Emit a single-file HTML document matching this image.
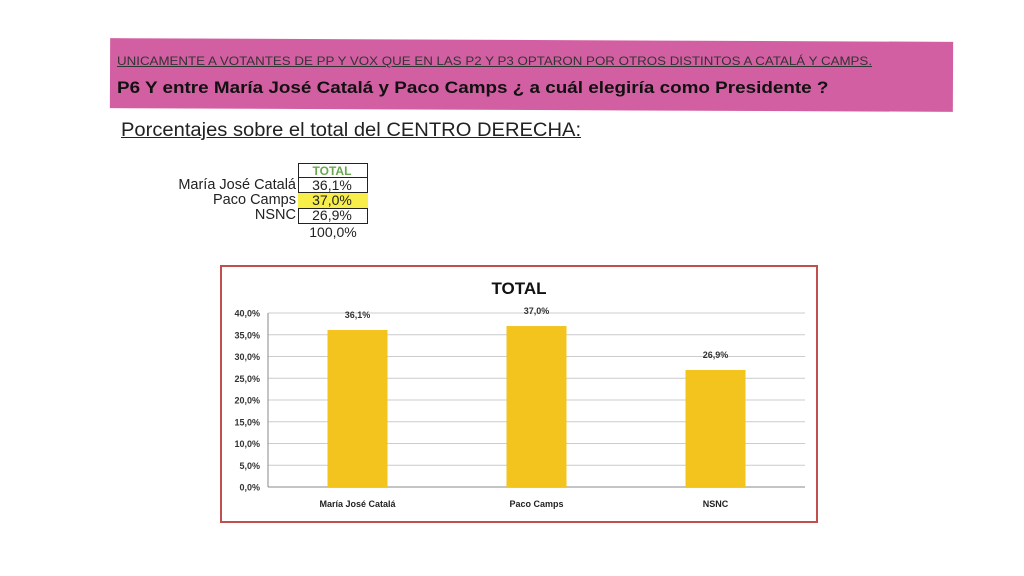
<!DOCTYPE html>
<html><head><meta charset="utf-8"><style>
body{margin:0;width:1024px;height:576px;background:#fff;position:relative;overflow:hidden;font-family:"Liberation Sans",sans-serif}
.abs{position:absolute}
.sx{transform-origin:0 0;white-space:nowrap}
</style></head><body>
<div class="abs" style="left:110px;top:40px;width:843px;height:70px;background:#d35fa3;transform:rotate(0.25deg)"></div>
<div class="abs sx" style="left:117px;top:54px;font-size:12px;color:#333;text-decoration:underline;transform:scaleX(1.11)">UNICAMENTE A VOTANTES DE PP Y VOX QUE EN LAS P2 Y P3 OPTARON POR OTROS DISTINTOS A CATALÁ Y CAMPS.</div>
<div class="abs sx" style="left:117px;top:78px;font-size:17px;font-weight:bold;color:#111;transform:scaleX(1.11)">P6 Y entre María José Catalá y Paco Camps ¿ a cuál elegiría como Presidente ?</div>
<div class="abs sx" style="left:121px;top:120px;font-size:19px;color:#222;text-decoration:underline;transform:scaleX(1.06)">Porcentajes sobre el total del CENTRO DERECHA:</div>
<div class="abs" style="left:0;top:0">
<div class="abs" style="left:298px;top:163px;width:68px;height:59px;border:1px solid #222"></div>
<div class="abs" style="left:298px;top:177px;width:70px;border-top:1px solid #222"></div>
<div class="abs" style="left:298px;top:192px;width:70px;height:15px;border-top:1px solid #222;border-bottom:1px solid #222;background:#f7ee4a"></div>
<div class="abs" style="left:298px;top:164px;width:68px;text-align:center;font-size:12px;font-weight:bold;color:#6aa84f">TOTAL</div>
<div class="abs" style="left:100px;top:177px;width:196px;text-align:right;font-size:14.5px;color:#222">María José Catalá</div>
<div class="abs" style="left:100px;top:192px;width:196px;text-align:right;font-size:14.5px;color:#222">Paco Camps</div>
<div class="abs" style="left:100px;top:207px;width:196px;text-align:right;font-size:14.5px;color:#222">NSNC</div>
<div class="abs" style="left:298px;top:177px;width:68px;text-align:center;font-size:14px;color:#222">36,1%</div>
<div class="abs" style="left:298px;top:192px;width:68px;text-align:center;font-size:14px;color:#222">37,0%</div>
<div class="abs" style="left:298px;top:207px;width:68px;text-align:center;font-size:14px;color:#222">26,9%</div>
<div class="abs" style="left:298px;top:224px;width:70px;text-align:center;font-size:14px;color:#222">100,0%</div>
</div>
<svg class="abs" style="left:0;top:0" width="1024" height="576">
<rect x="221" y="266" width="596" height="256" fill="#fff" stroke="#c0504d" stroke-width="2"/>
<text x="519" y="294" text-anchor="middle" font-size="17" font-weight="bold" fill="#111">TOTAL</text>
<g id="g"></g>
</svg>
<script>
const categories=["María José Catalá","Paco Camps","NSNC"];
const values=[36.1,37.0,26.9];
const valueLabels=["36,1%","37,0%","26,9%"];
const ticks=[0,5,10,15,20,25,30,35,40];
const tickLabels=["0,0%","5,0%","10,0%","15,0%","20,0%","25,0%","30,0%","35,0%","40,0%"];
const NS="http://www.w3.org/2000/svg",g=document.getElementById('g');
const x0=268,x1=805,y0=487,yTop=313;
const y=v=>y0-(v/40)*(y0-yTop);
const band=(x1-x0)/categories.length;
const xc=i=>x0+band*(i+0.5);
function mk(t,a,txt){const e=document.createElementNS(NS,t);for(const k in a)e.setAttribute(k,a[k]);if(txt!=null)e.textContent=txt;g.appendChild(e);return e;}
ticks.forEach((t,i)=>{
const l=mk('line',{x1:x0,x2:x1,y1:y(t),y2:y(t),stroke:i?'#ccc':'#888','stroke-width':1});


const tx=mk('text',{x:x0-8,y:y(t)+3.5,'text-anchor':'end','font-size':9,'font-weight':'bold',fill:'#333'},tickLabels[i]);


});
const ax=mk('line',{x1:x0,x2:x0,y1:yTop,y2:y0,stroke:'#888'});


categories.forEach((c,i)=>{
const b=mk('rect',{x:xc(i)-30,y:y(values[i]),width:60,height:y0-y(values[i]),fill:'#f2c41d'});


const v=mk('text',{x:xc(i),y:y(values[i])-12,'text-anchor':'middle','font-size':9,'font-weight':'bold',fill:'#333'},valueLabels[i]);


const cl=mk('text',{x:xc(i),y:y0+20,'text-anchor':'middle','font-size':9,'font-weight':'bold',fill:'#222'},c);


});
</script>
</body></html>
